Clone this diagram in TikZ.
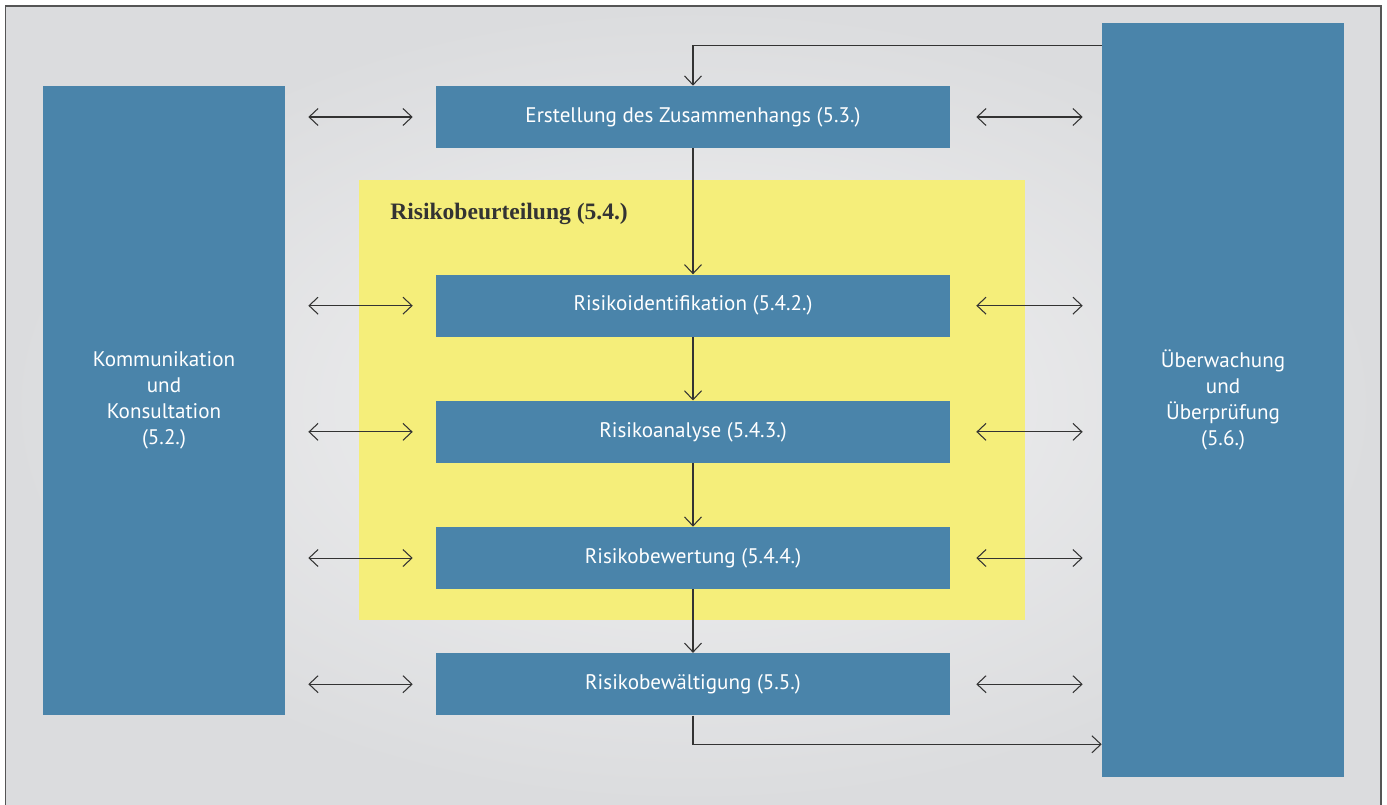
\documentclass[tikz,border=0pt]{standalone}
\usepackage{fontspec}
\setmainfont{PT Sans}
\newfontfamily\titlefont{Liberation Serif}
\usepackage{tikz}
\usetikzlibrary{arrows.meta,positioning,calc}
\definecolor{Steel}{HTML}{4A84AA}
\definecolor{Lemon}{HTML}{F5EE7A}
\definecolor{Haze}{HTML}{F2F2F3}
\definecolor{Fog}{HTML}{DBDCDE}
\definecolor{Ink}{HTML}{333333}
\definecolor{Rim}{HTML}{555555}

\begin{document}
\begin{tikzpicture}[
  x=0.02cm,y=-0.02cm,
  node distance=1.27cm,
  stepbox/.style={fill=Steel,text=white,minimum width=10.28cm,minimum height=1.24cm,inner sep=0pt,align=center,font=\fontsize{12}{14.8}\selectfont},
  sidebox/.style={stepbox,minimum width=4.84cm},
  arrow/.style={-{Straight Barb[length=1.8mm,width=3.4mm]},line width=0.6pt,draw=Ink},
  both/.style={{Straight Barb[length=1.8mm,width=3.4mm]}-{Straight Barb[length=1.8mm,width=3.4mm]},line width=0.6pt,draw=Ink}
]
\useasboundingbox (0,0) rectangle (1387,805);
% background and frame
\shade[inner color=Haze,outer color=Fog] (5.5,6) rectangle (1381,805);
\draw[Rim,line width=1.1pt] (5.5,805) -- (5.5,6) -- (1381,6) -- (1381,805);
% assessment zone
\fill[Lemon] (359,180) rectangle (1025,620);
\node[anchor=west,text=Ink,inner sep=0pt,font=\titlefont\bfseries\fontsize{13.4}{15}\selectfont] (zone) at (390,214) {Risikobeurteilung (5.4.)};

\node[stepbox] (ctx) at (693,117) {Erstellung des Zusammenhangs (5.3.)};
\node[stepbox,below=2.52cm of ctx] (ident) {Risikoidentifikation (5.4.2.)};
\node[stepbox,below=of ident] (analyse) {Risikoanalyse (5.4.3.)};
\node[stepbox,below=of analyse] (bewert) {Risikobewertung (5.4.4.)};
\node[stepbox,below=of bewert] (treat) {Risikobewältigung (5.5.)};
\node[sidebox,minimum height=12.58cm] (komm) at (164,400.5) {Kommunikation\\und\\Konsultation\\(5.2.)};
\node[sidebox,minimum height=15.08cm] (watch) at (1223,400) {Überwachung\\und\\Überprüfung\\(5.6.)};

\draw[arrow] (ctx) -- (ident);
\draw[arrow] (ident) -- (analyse);
\draw[arrow] (analyse) -- (bewert);
\draw[arrow] (bewert) -- (treat);
\draw[arrow] ([yshift=-0.46cm]watch.north west) -| (ctx.north);
\draw[arrow] (treat.south) |- ([yshift=0.66cm]watch.south west);
\foreach \s in {ctx,ident,analyse,bewert,treat}{
  \draw[both,shorten <=0.46cm,shorten >=0.46cm] (komm.east |- \s) -- (\s.west);
  \draw[both,shorten <=0.52cm,shorten >=0.38cm] (\s.east) -- (watch.west |- \s);
}
\end{tikzpicture}
\end{document}
